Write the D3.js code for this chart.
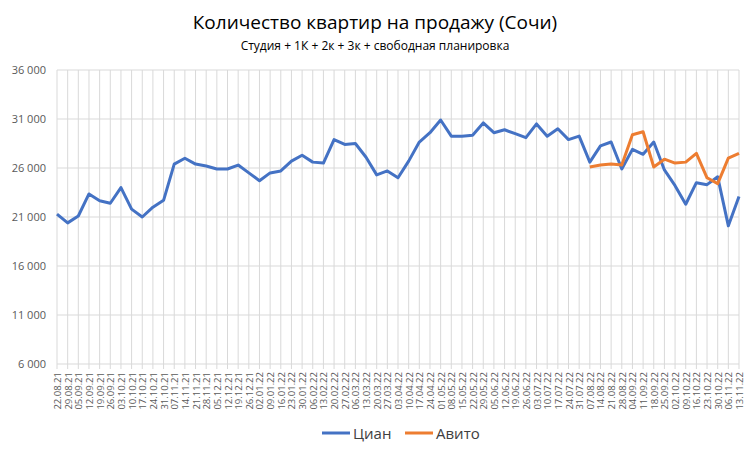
<!DOCTYPE html><html><head><meta charset="utf-8"><script src="https://cdn.jsdelivr.net/npm/d3@7"></script>
<style>body{margin:0;background:#fff}svg{font-family:"Open Sans",sans-serif}</style></head><body><svg width="751" height="455"></svg><script>
const startDate = new Date(2021,7,22);
const dates = d3.range(65).map(i=>d3.timeFormat("%d.%m.%y")(d3.timeDay.offset(startDate,i*7)));
const cian = [21300,20400,21100,23350,22650,22400,24000,21800,21000,22000,22700,26400,27000,26400,26200,25900,25900,26300,25500,24700,25500,25700,26700,27300,26600,26500,28900,28400,28500,27100,25300,25700,25000,26700,28650,29600,30900,29250,29250,29350,30600,29600,29900,29500,29100,30500,29250,30000,28900,29250,26600,28250,28650,25900,27900,27400,28650,25800,24200,22300,24500,24300,25100,20100,23100];
const avitoStart = 50;
const avito = [26100,26300,26400,26300,29400,29700,26100,26900,26500,26600,27500,25000,24400,27000,27500];
const yTicks = [6000,11000,16000,21000,26000,31000,36000];
const svg=d3.select("svg");
const x=d3.scalePoint().domain(dates).range([57,739]);
const y=d3.scaleLinear().domain([6000,36000]).range([364,70]);
const fmt=v=>d3.format(",")(v).replace(","," ");
svg.append("g").selectAll("line").data(yTicks).join("line").attr("x1",57).attr("x2",739).attr("y1",y).attr("y2",y).attr("stroke","#d9d9d9");
svg.append("g").selectAll("line").data(dates).join("line").attr("x1",d=>x(d)).attr("x2",d=>x(d)).attr("y1",70).attr("y2",369).attr("stroke","#d9d9d9");
svg.append("g").selectAll("text").data(yTicks).join("text").attr("x",46).attr("y",d=>y(d)+4).attr("text-anchor","end").attr("font-size",11).attr("fill","#595959").text(fmt);
svg.append("g").selectAll("text").data(dates).join("text").attr("transform",d=>`translate(${x(d)+4},372) rotate(-90)`).attr("text-anchor","end").attr("font-size",9.5).attr("fill","#595959").text(d=>d);
const line=d3.line().x(d=>x(d[0])).y(d=>y(d[1]));
svg.append("path").attr("d",line(cian.map((v,i)=>[dates[i],v]))).attr("fill","none").attr("stroke","#4472c4").attr("stroke-width",3).attr("stroke-linejoin","round");
svg.append("path").attr("d",line(avito.map((v,i)=>[dates[i+avitoStart],v]))).attr("fill","none").attr("stroke","#ed7d31").attr("stroke-width",3).attr("stroke-linejoin","round");
svg.append("text").attr("x",375).attr("y",29).attr("text-anchor","middle").attr("font-size",19).attr("fill","#000").text("Количество квартир на продажу (Сочи)");
svg.append("text").attr("x",375).attr("y",50).attr("text-anchor","middle").attr("font-size",12).attr("fill","#000").text("Студия + 1К + 2к + 3к + свободная планировка");
const leg=[["Циан","#4472c4",322],["Авито","#ed7d31",405]];
leg.forEach(([t,c,lx])=>{svg.append("line").attr("x1",lx).attr("x2",lx+28).attr("y1",433).attr("y2",433).attr("stroke",c).attr("stroke-width",3);
svg.append("text").attr("x",lx+31).attr("y",439).attr("font-size",15).attr("fill","#404040").text(t);});
</script></body></html>
